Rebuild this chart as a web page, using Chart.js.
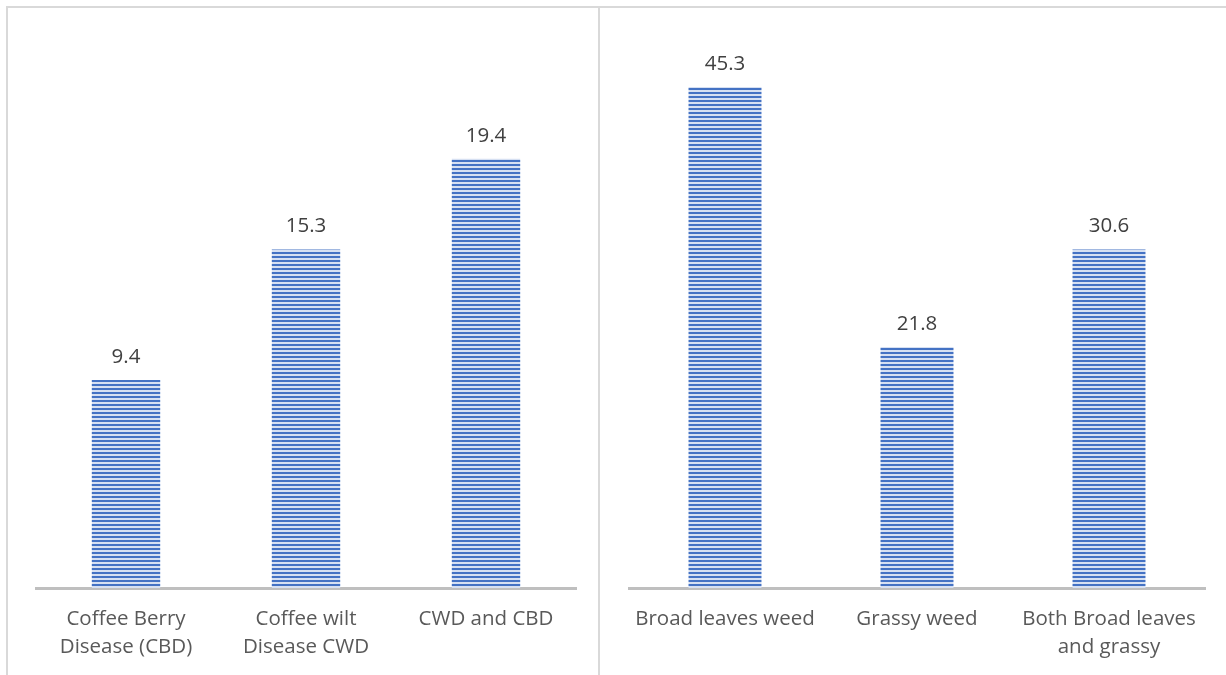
<!DOCTYPE html>
<html>
<head>
<meta charset="utf-8">
<script src="https://cdn.jsdelivr.net/npm/chart.js@4/dist/chart.umd.min.js"></script>
<style>
  html, body { margin: 0; padding: 0; background: #fff; }
  body { width: 1226px; height: 675px; position: relative; overflow: hidden; }
  .panel { position: absolute; top: 6px; height: 669px; border-top: 2px solid #d9d9d9; border-left: 2px solid #d9d9d9; box-sizing: border-box; }
  #leftPanel { left: 6px; width: 592px; }
  #rightPanel { left: 598px; width: 640px; }
  canvas { position: absolute; }
  #diseaseChart { left: 8px; top: 8px; }
  #weedChart { left: 600px; top: 8px; }
</style>
</head>
<body>
<div class="panel" id="leftPanel"></div>
<div class="panel" id="rightPanel"></div>
<canvas id="diseaseChart" width="590" height="686"></canvas>
<canvas id="weedChart" width="626" height="686"></canvas>
<script>
const diseaseLabels = [['Coffee Berry', 'Disease (CBD)'], ['Coffee wilt', 'Disease CWD'], 'CWD and CBD'];
const diseaseValues = [9.4, 15.3, 19.4];
const diseaseMax = 25;

const weedLabels = ['Broad leaves weed', 'Grassy weed', ['Both Broad leaves', 'and grassy']];
const weedValues = [45.3, 21.8, 30.6];
const weedMax = 50;

const fontFamily = '"Open Sans", "Noto Sans", sans-serif';

function stripePattern() {
    const c = document.createElement('canvas');
    c.width = 8;
    c.height = 4;
    const g = c.getContext('2d');
    g.fillStyle = '#d6e0f2';
    g.fillRect(0, 0, 8, 4);
    g.fillStyle = '#4472c4';
    g.fillRect(0, 0, 8, 2);
    return g.createPattern(c, 'repeat');
}

// values written above each bar
const valueLabels = {
    id: 'valueLabels',
    afterDatasetsDraw(chart) {
        const ctx = chart.ctx;
        const meta = chart.getDatasetMeta(0);
        const values = chart.data.datasets[0].data;
        ctx.save();
        ctx.font = '20.5px ' + fontFamily;
        ctx.fillStyle = '#404040';
        ctx.textAlign = 'center';
        ctx.textBaseline = 'middle';
        meta.data.forEach((bar, i) => {
            ctx.fillText(values[i].toFixed(1), bar.x, bar.y - 23);
        });
        ctx.restore();
    }
};

function makeChart(id, labels, values, max, padLeft, padRight) {
    return new Chart(document.getElementById(id), {
        type: 'bar',
        data: {
            labels: labels,
            datasets: [{
                data: values,
                backgroundColor: stripePattern(),
                borderWidth: 0,
                categoryPercentage: 1,
                barPercentage: 0.38
            }]
        },
        options: {
            responsive: false,
            animation: false,
            layout: { padding: { left: padLeft, right: padRight, top: 27, bottom: 16 } },
            plugins: { legend: { display: false }, tooltip: { enabled: false } },
            scales: {
                x: {
                    grid: { display: false, drawTicks: false },
                    border: { color: '#bfbfbf', width: 3 },
                    ticks: {
                        color: '#595959',
                        font: { family: fontFamily, size: 20.5, lineHeight: 28 / 20.5 },
                        padding: 17,
                        maxRotation: 0,
                        autoSkip: false
                    }
                },
                y: { display: false, min: 0, max: max }
            }
        },
        plugins: [valueLabels]
    });
}

makeChart('diseaseChart', diseaseLabels, diseaseValues, diseaseMax, 28, 22);
makeChart('weedChart', weedLabels, weedValues, weedMax, 29, 21);
</script>
</body>
</html>
